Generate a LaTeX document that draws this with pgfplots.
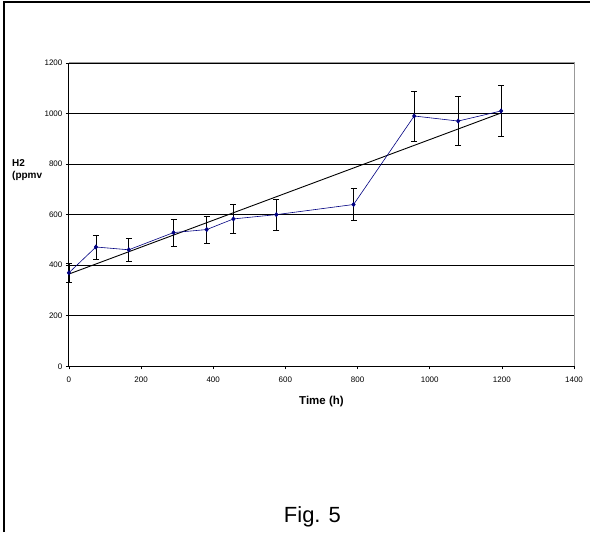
\documentclass[border=0pt]{standalone}
\usepackage{pgfplots}
\pgfplotsset{compat=1.18}
\usepackage{fontspec}
\setmainfont{Liberation Sans}
\definecolor{navyblue}{RGB}{0,0,128}
\begin{document}
\begin{tikzpicture}
\path (0pt,0pt) rectangle (591pt,533pt);
\draw[line width=2pt] (4.5pt,0pt) -- (4.5pt,530.5pt) -- (591pt,530.5pt);
\begin{axis}[
  at={(69pt,166pt)}, anchor=south west,
  scale only axis, width=506pt, height=304pt,
  xmin=0, xmax=1400, ymin=0, ymax=1200,
  xtick={0,200,...,1400}, ytick={0,200,...,1200},
  tick align=outside, tick pos=left,
  major tick length=3pt,
  tick style={black, line width=0.6pt},
  ymajorgrids, grid style={black, line width=0.7pt},
  axis line style={draw=none},
  ticklabel style={font=\fontsize{8}{9}\selectfont},
  /pgf/number format/assume math mode=true,
  /pgf/number format/1000 sep={},
  scaled ticks=false,
  xticklabel style={yshift=-4pt},
  xlabel={\bfseries Time (h)},
  xlabel style={font=\fontsize{11.5}{13}\selectfont, yshift=-7pt},
  clip=false,
]
\addplot[black, line width=0.9pt] coordinates {(0,365) (1200,1003)};
\addplot[navyblue, line width=0.6pt, mark=diamond*, mark size=2.2pt,
  mark options={navyblue},
  error bars/.cd, y dir=both, y explicit,
  error bar style={black, line width=0.6pt},
  error mark options={black, rotate=90, mark size=3pt, line width=0.6pt}]
 coordinates {
  (0,370) +- (0,37)
  (75,472) +- (0,47)
  (166,461) +- (0,46)
  (290,529) +- (0,53)
  (382,541) +- (0,54)
  (456,583) +- (0,58)
  (575,600) +- (0,60)
  (789,640) +- (0,64)
  (957,990) +- (0,99)
  (1079,970) +- (0,97)
  (1198,1010) +- (0,101)
 };
\draw[gray!80, line width=0.8pt] (rel axis cs:0,1) -- (rel axis cs:1,1) -- (rel axis cs:1,0);
\draw[black, line width=0.9pt] (rel axis cs:0,1) -- (rel axis cs:0,0) -- (rel axis cs:1,0);
\end{axis}
\node[anchor=west, align=left, font=\bfseries\fontsize{10}{12}\selectfont, inner sep=0pt] at (12pt,363pt) {H2\\(ppmv};
\node[anchor=base, font=\fontsize{22}{26}\selectfont, inner sep=0pt] at (313pt,10pt) {Fig. 5};
\end{tikzpicture}
\end{document}
